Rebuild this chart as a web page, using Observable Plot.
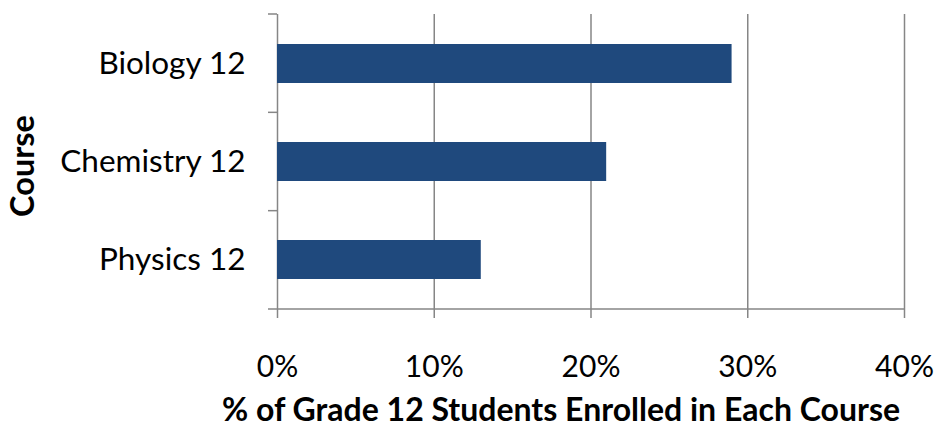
<!DOCTYPE html>
<html>
<head>
<meta charset="utf-8">
<script src="https://cdn.jsdelivr.net/npm/d3@7"></script>
<script src="https://cdn.jsdelivr.net/npm/@observablehq/plot@0.6"></script>
<style>
  html, body { margin: 0; padding: 0; background: #fff; }
  #chart svg { display: block; font-family: Lato, "Open Sans", sans-serif; }
  #chart g[aria-label="y-axis tick label"] { font-size: 31.5px; }
</style>
</head>
<body>
<div id="chart"></div>
<script>
const courses = ["Biology 12", "Chemistry 12", "Physics 12"];
const shares = [0.29, 0.21, 0.13];
const xTicks = [0, 0.1, 0.2, 0.3, 0.4];
const xTitle = "% of Grade 12 Students Enrolled in Each Course";
const yTitle = "Course";

const data = courses.map((c, i) => ({course: c, share: shares[i]}));
const grid = "#868686";

const chart = Plot.plot({
  width: 938,
  height: 429,
  marginLeft: 277,
  marginRight: 34,
  marginTop: 14,
  marginBottom: 120,
  style: {fontSize: "30px", color: "#000", background: "#fff"},
  x: {domain: [0, 0.4], ticks: xTicks, tickFormat: d3.format(".0%"), tickSize: 9, tickPadding: 37, label: null},
  y: {domain: courses, paddingInner: 0.6, paddingOuter: 0.3, tickSize: 0, tickPadding: 32, label: null},
  marks: [
    Plot.ruleX(xTicks, {x: d => d, stroke: grid, strokeWidth: 1.5}),
    Plot.barX(data, {x: "share", y: "course", fill: "#1F497D"}),
    Plot.text([yTitle], {frameAnchor: "left", textAnchor: "middle", lineAnchor: "middle", rotate: -90, dx: -254, dy: 4, fontWeight: "bold", fontSize: 32.5}),
    Plot.text([xTitle], {frameAnchor: "bottom", textAnchor: "middle", lineAnchor: "middle", dy: 101, dx: -30, fontWeight: "bold", fontSize: 32})
  ]
});

document.getElementById("chart").appendChild(chart);

// axis lines: x baseline and band-boundary ticks on the y axis, derived from the scales
const svg = d3.select(chart);
const xs = chart.scale("x");
const ys = chart.scale("y");
const x0 = xs.apply(0), x1 = xs.apply(0.4);
const [r0, r1] = ys.range;
const n = courses.length;
const stepB = (r1 - r0) / n;
const tickLen = 9;
const g = svg.append("g").attr("stroke", grid).attr("stroke-width", 1.5);
g.append("line").attr("x1", x0 - tickLen).attr("x2", x1).attr("y1", r1).attr("y2", r1);
for (let i = 0; i < n; i++) {
  const yy = r0 + i * stepB;
  g.append("line").attr("x1", x0 - tickLen).attr("x2", x0).attr("y1", yy).attr("y2", yy);
}
svg.selectAll('g[aria-label="x-axis tick"] path').attr("stroke", grid).attr("stroke-width", 1.5);
</script>
</body>
</html>
